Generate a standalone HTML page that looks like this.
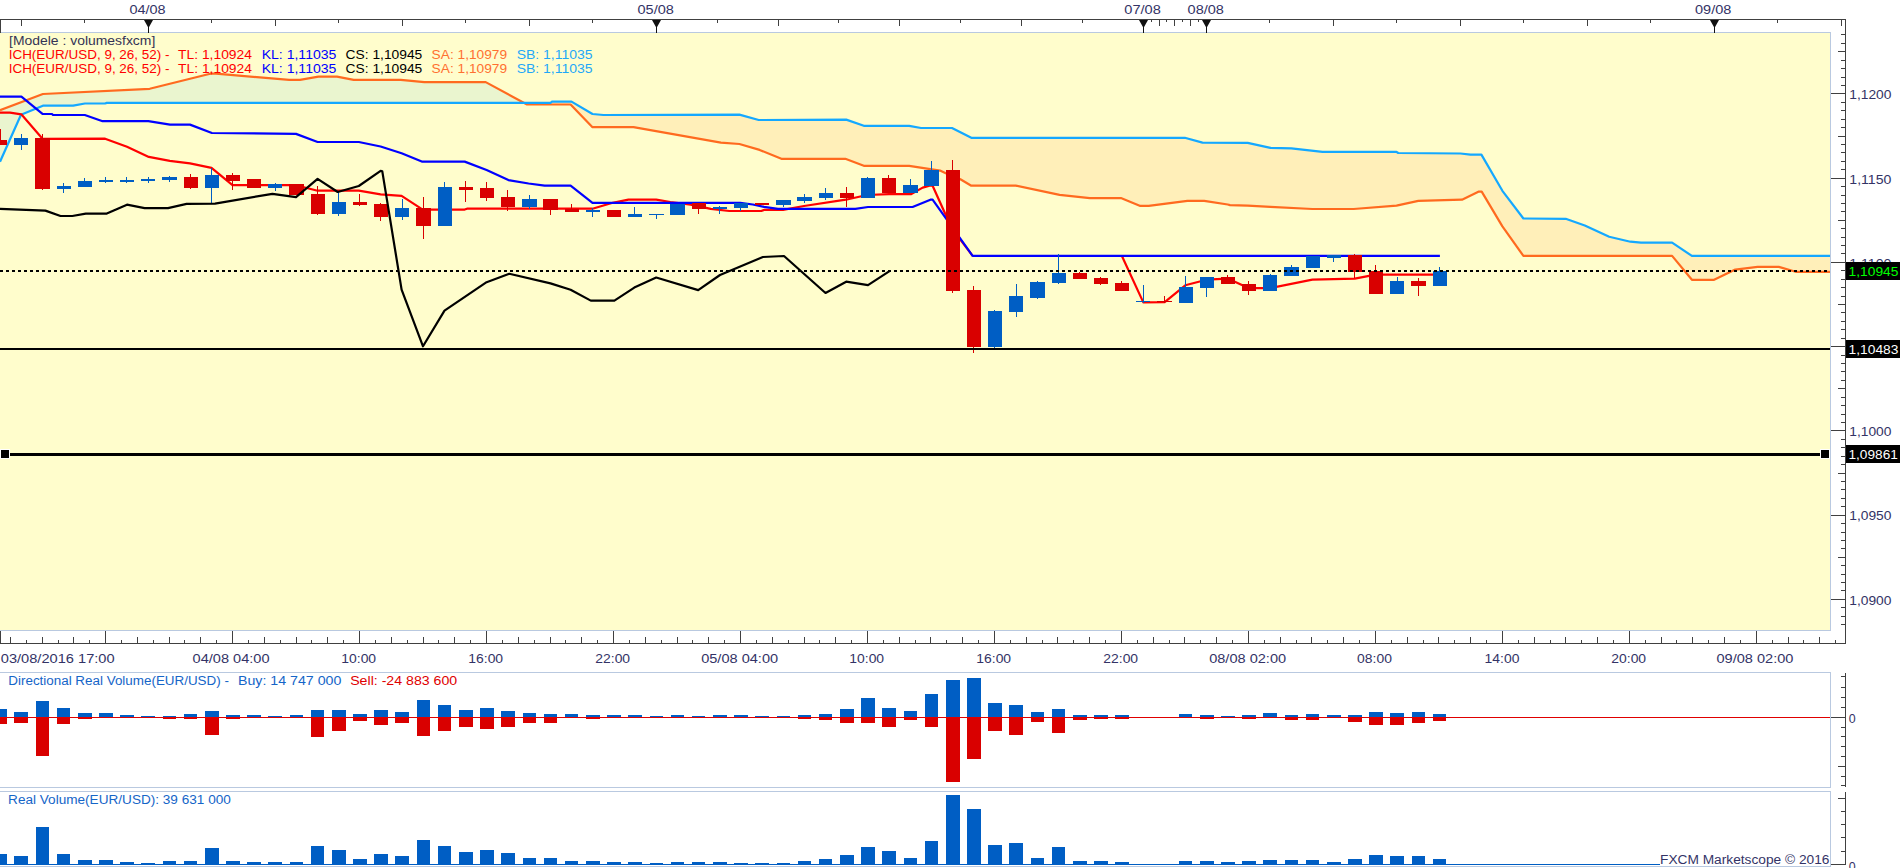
<!DOCTYPE html>
<html><head><meta charset="utf-8"><title>EUR/USD Marketscope</title>
<style>html,body{margin:0;padding:0;background:#fff;overflow:hidden}body{width:1903px;height:868px;position:relative;font-family:"Liberation Sans",sans-serif}</style></head>
<body>
<svg width="1903" height="868" viewBox="0 0 1903 868" style="position:absolute;left:0;top:0;font-family:'Liberation Sans',sans-serif;white-space:pre;">
<rect x="0" y="0" width="1903" height="868" fill="#fff"/>
<rect x="0" y="32" width="1830" height="598" fill="#FFFDCC"/>
<polygon points="0.0,110.2 42.9,94.0 149.7,88.8 210.2,73.7 216.0,73.7 289.2,79.8 300.0,79.8 318.4,76.7 337.0,76.7 353.7,79.8 400.8,79.8 424.3,82.1 485.7,82.1 523.9,102.8 523.9,102.8 106.8,102.9 105.0,103.5 84.9,103.5 73.2,105.7 42.9,105.7 21.0,114.7 0.0,161.8" fill="#EAF5CF"/>
<polygon points="523.9,102.8 550.5,102.8 552.0,101.6 571.5,101.6 592.5,114.0 603.4,115.0 739.4,114.6 758.7,120.0 846.2,119.6 863.8,125.8 909.2,125.8 921.0,128.0 952.0,128.0 971.3,137.8 1184.8,137.8 1202.5,142.6 1247.7,142.9 1270.4,147.9 1291.4,148.4 1322.5,151.8 1396.5,151.8 1398.2,153.0 1460.4,153.5 1470.5,154.6 1481.4,154.6 1502.4,190.8 1523.4,218.5 1565.7,218.8 1584.8,225.5 1609.2,236.8 1630.4,241.7 1641.0,242.7 1672.1,242.7 1691.9,255.9 1830.0,255.9 1830.0,271.8 1795.7,271.8 1778.8,266.9 1757.6,266.9 1735.3,269.6 1714.1,279.8 1691.9,279.8 1672.1,255.9 1523.4,255.9 1502.4,226.4 1481.7,191.6 1478.9,191.6 1462.0,199.7 1418.3,200.9 1396.5,205.6 1353.6,209.0 1312.4,209.0 1270.4,206.8 1247.7,205.6 1230.0,205.1 1227.7,204.5 1204.2,200.8 1187.4,200.8 1148.7,205.9 1140.3,205.9 1120.9,198.1 1089.8,198.1 1059.6,194.8 1015.8,185.7 971.3,185.7 960.4,179.3 945.2,172.9 940.0,170.6 909.2,165.8 863.8,165.8 845.3,158.8 781.4,158.8 759.6,149.9 739.4,144.0 720.9,142.6 633.5,127.2 592.5,127.2 570.6,104.5 527.0,104.5 523.9,102.8" fill="#FFEFB9"/>
<g fill="none" stroke-width="2.2" stroke-linejoin="round">
<polyline points="0.0,110.2 42.9,94.0 149.7,88.8 210.2,73.7 216.0,73.7 289.2,79.8 300.0,79.8 318.4,76.7 337.0,76.7 353.7,79.8 400.8,79.8 424.3,82.1 485.7,82.1 527.0,104.5 570.6,104.5 592.5,127.2 633.5,127.2 720.9,142.6 739.4,144.0 759.6,149.9 781.4,158.8 845.3,158.8 863.8,165.8 909.2,165.8 940.0,170.6 945.2,172.9 960.4,179.3 971.3,185.7 1015.8,185.7 1059.6,194.8 1089.8,198.1 1120.9,198.1 1140.3,205.9 1148.7,205.9 1187.4,200.8 1204.2,200.8 1227.7,204.5 1230.0,205.1 1247.7,205.6 1270.4,206.8 1312.4,209.0 1353.6,209.0 1396.5,205.6 1418.3,200.9 1462.0,199.7 1478.9,191.6 1481.7,191.6 1502.4,226.4 1523.4,255.9 1672.1,255.9 1691.9,279.8 1714.1,279.8 1735.3,269.6 1757.6,266.9 1778.8,266.9 1795.7,271.8 1830.0,271.8" stroke="#FF6A1F"/>
<polyline points="0.0,161.8 21.0,114.7 42.9,105.7 73.2,105.7 84.9,103.5 105.0,103.5 106.8,102.9 550.5,102.8 552.0,101.6 571.5,101.6 592.5,114.0 603.4,115.0 739.4,114.6 758.7,120.0 846.2,119.6 863.8,125.8 909.2,125.8 921.0,128.0 952.0,128.0 971.3,137.8 1184.8,137.8 1202.5,142.6 1247.7,142.9 1270.4,147.9 1291.4,148.4 1322.5,151.8 1396.5,151.8 1398.2,153.0 1460.4,153.5 1470.5,154.6 1481.4,154.6 1502.4,190.8 1523.4,218.5 1565.7,218.8 1584.8,225.5 1609.2,236.8 1630.4,241.7 1641.0,242.7 1672.1,242.7 1691.9,255.9 1830.0,255.9" stroke="#14A8FF"/>
<polyline points="0.0,112.6 10.0,112.6 21.3,114.3 42.5,138.8 105.1,138.7 127.0,146.8 148.8,156.9 169.8,160.8 190.0,163.3 211.5,167.9 232.5,185.2 296.0,185.2 317.6,190.7 358.8,190.7 380.6,194.4 401.6,195.8 422.7,209.6 464.7,209.6 467.0,208.7 592.5,208.7 612.7,202.8 628.4,199.7 656.2,199.7 670.4,202.0 690.6,204.7 710.8,208.8 729.3,211.0 761.2,211.0 764.6,209.8 783.1,209.8 804.0,206.0 845.8,199.7 867.0,195.0 889.0,194.2 910.9,194.2 922.7,187.6 930.4,185.5 932.6,185.8 951.6,228.0 972.6,255.8" stroke="#FF0000"/>
<polyline points="1121.8,255.8 1143.3,302.4 1164.7,302.1 1185.3,285.3 1206.5,279.7 1227.7,278.6 1248.5,288.1 1270.0,288.1 1312.4,279.7 1354.8,278.6 1375.6,274.7 1439.5,274.7" stroke="#FF0000"/>
<polyline points="0.0,96.6 21.4,96.6 42.5,113.9 52.0,114.0 53.0,115.0 84.8,115.0 102.6,121.2 148.3,121.2 170.0,124.6 190.0,124.6 211.9,133.0 296.0,133.9 317.6,142.0 358.8,142.0 380.6,146.5 401.6,153.2 421.8,161.6 464.7,161.6 486.6,170.0 508.4,180.1 528.6,183.5 544.6,185.7 570.6,185.7 592.5,202.8 740.2,202.8 752.8,204.5 764.0,206.9 778.0,208.8 855.4,208.8 868.0,207.0 912.6,207.0 930.4,199.7 932.6,199.7 972.6,255.8 1439.9,255.8" stroke="#0000FF"/>
</g>
<g shape-rendering="crispEdges">
<rect x="0" y="129.0" width="1" height="15.6" fill="#D90000"/>
<rect x="-7" y="140.0" width="14" height="4.6" fill="#D90000"/>
<rect x="21" y="134.0" width="1" height="15.8" fill="#005EC4"/>
<rect x="14" y="138.3" width="14" height="6.3" fill="#005EC4"/>
<rect x="42" y="134.0" width="1" height="55.7" fill="#D90000"/>
<rect x="35" y="138.3" width="15" height="50.6" fill="#D90000"/>
<rect x="63" y="183.0" width="1" height="9.8" fill="#005EC4"/>
<rect x="57" y="186.0" width="14" height="2.9" fill="#005EC4"/>
<rect x="84" y="178.1" width="1" height="8.6" fill="#005EC4"/>
<rect x="78" y="181.0" width="14" height="5.7" fill="#005EC4"/>
<rect x="105" y="177.1" width="1" height="5.9" fill="#005EC4"/>
<rect x="99" y="179.8" width="14" height="2.4" fill="#005EC4"/>
<rect x="126" y="177.1" width="1" height="5.9" fill="#005EC4"/>
<rect x="120" y="179.8" width="14" height="2.4" fill="#005EC4"/>
<rect x="148" y="176.6" width="1" height="6.4" fill="#005EC4"/>
<rect x="141" y="179.0" width="14" height="2.3" fill="#005EC4"/>
<rect x="169" y="176.0" width="1" height="5.8" fill="#005EC4"/>
<rect x="162" y="177.0" width="15" height="2.8" fill="#005EC4"/>
<rect x="190" y="173.9" width="1" height="15.1" fill="#D90000"/>
<rect x="184" y="177.0" width="14" height="10.7" fill="#D90000"/>
<rect x="211" y="168.4" width="1" height="34.4" fill="#005EC4"/>
<rect x="205" y="175.1" width="14" height="12.6" fill="#005EC4"/>
<rect x="232" y="172.9" width="1" height="16.8" fill="#D90000"/>
<rect x="226" y="175.1" width="14" height="5.9" fill="#D90000"/>
<rect x="253" y="179.0" width="1" height="8.7" fill="#D90000"/>
<rect x="247" y="179.0" width="14" height="8.7" fill="#D90000"/>
<rect x="275" y="183.0" width="1" height="8.0" fill="#005EC4"/>
<rect x="268" y="184.0" width="14" height="3.7" fill="#005EC4"/>
<rect x="296" y="184.0" width="1" height="10.8" fill="#D90000"/>
<rect x="289" y="184.0" width="15" height="10.8" fill="#D90000"/>
<rect x="317" y="186.0" width="1" height="29.2" fill="#D90000"/>
<rect x="311" y="194.0" width="14" height="19.8" fill="#D90000"/>
<rect x="338" y="192.0" width="1" height="23.8" fill="#005EC4"/>
<rect x="332" y="202.0" width="14" height="11.8" fill="#005EC4"/>
<rect x="359" y="194.0" width="1" height="11.7" fill="#D90000"/>
<rect x="353" y="202.0" width="14" height="2.9" fill="#D90000"/>
<rect x="380" y="202.9" width="1" height="18.0" fill="#D90000"/>
<rect x="374" y="204.0" width="14" height="12.8" fill="#D90000"/>
<rect x="402" y="199.0" width="1" height="20.7" fill="#005EC4"/>
<rect x="395" y="207.9" width="14" height="8.9" fill="#005EC4"/>
<rect x="423" y="197.0" width="1" height="41.7" fill="#D90000"/>
<rect x="416" y="207.9" width="15" height="17.7" fill="#D90000"/>
<rect x="444" y="181.9" width="1" height="43.7" fill="#005EC4"/>
<rect x="438" y="186.9" width="14" height="38.7" fill="#005EC4"/>
<rect x="465" y="181.0" width="1" height="21.0" fill="#D90000"/>
<rect x="459" y="186.9" width="14" height="3.0" fill="#D90000"/>
<rect x="486" y="181.9" width="1" height="19.0" fill="#D90000"/>
<rect x="480" y="188.0" width="14" height="9.8" fill="#D90000"/>
<rect x="507" y="189.9" width="1" height="20.9" fill="#D90000"/>
<rect x="501" y="197.0" width="14" height="9.7" fill="#D90000"/>
<rect x="529" y="195.0" width="1" height="13.8" fill="#005EC4"/>
<rect x="522" y="199.0" width="15" height="7.7" fill="#005EC4"/>
<rect x="550" y="199.0" width="1" height="15.8" fill="#D90000"/>
<rect x="543" y="199.0" width="15" height="10.6" fill="#D90000"/>
<rect x="571" y="204.0" width="1" height="7.8" fill="#D90000"/>
<rect x="565" y="208.8" width="14" height="3.0" fill="#D90000"/>
<rect x="592" y="207.9" width="1" height="8.9" fill="#005EC4"/>
<rect x="586" y="209.9" width="14" height="1.9" fill="#005EC4"/>
<rect x="613" y="209.9" width="1" height="6.9" fill="#D90000"/>
<rect x="607" y="209.9" width="14" height="6.9" fill="#D90000"/>
<rect x="634" y="206.9" width="1" height="9.8" fill="#005EC4"/>
<rect x="628" y="214.0" width="14" height="2.7" fill="#005EC4"/>
<rect x="656" y="214.0" width="1" height="5.0" fill="#005EC4"/>
<rect x="649" y="214.0" width="15" height="1.0" fill="#005EC4"/>
<rect x="677" y="203.5" width="1" height="11.5" fill="#005EC4"/>
<rect x="670" y="203.5" width="15" height="11.5" fill="#005EC4"/>
<rect x="698" y="203.2" width="1" height="10.8" fill="#D90000"/>
<rect x="692" y="203.2" width="14" height="5.4" fill="#D90000"/>
<rect x="719" y="205.6" width="1" height="8.4" fill="#005EC4"/>
<rect x="713" y="206.9" width="14" height="2.0" fill="#005EC4"/>
<rect x="740" y="203.2" width="1" height="7.9" fill="#005EC4"/>
<rect x="734" y="203.2" width="14" height="4.5" fill="#005EC4"/>
<rect x="761" y="203.2" width="1" height="2.0" fill="#D90000"/>
<rect x="755" y="203.2" width="14" height="2.0" fill="#D90000"/>
<rect x="783" y="199.8" width="1" height="7.1" fill="#005EC4"/>
<rect x="776" y="199.8" width="15" height="5.1" fill="#005EC4"/>
<rect x="804" y="194.0" width="1" height="9.0" fill="#005EC4"/>
<rect x="797" y="196.8" width="15" height="4.2" fill="#005EC4"/>
<rect x="825" y="187.9" width="1" height="11.9" fill="#005EC4"/>
<rect x="819" y="193.0" width="14" height="4.7" fill="#005EC4"/>
<rect x="846" y="187.0" width="1" height="19.9" fill="#D90000"/>
<rect x="840" y="193.0" width="14" height="4.7" fill="#D90000"/>
<rect x="867" y="176.8" width="1" height="20.9" fill="#005EC4"/>
<rect x="861" y="178.0" width="14" height="19.7" fill="#005EC4"/>
<rect x="888" y="175.1" width="1" height="17.9" fill="#D90000"/>
<rect x="882" y="178.0" width="14" height="15.0" fill="#D90000"/>
<rect x="910" y="179.0" width="1" height="14.0" fill="#005EC4"/>
<rect x="903" y="185.0" width="15" height="8.0" fill="#005EC4"/>
<rect x="931" y="160.8" width="1" height="25.2" fill="#005EC4"/>
<rect x="924" y="170.0" width="15" height="16.0" fill="#005EC4"/>
<rect x="952" y="160.0" width="1" height="132.7" fill="#D90000"/>
<rect x="946" y="170.0" width="14" height="120.7" fill="#D90000"/>
<rect x="973" y="286.1" width="1" height="66.8" fill="#D90000"/>
<rect x="967" y="290.2" width="14" height="56.5" fill="#D90000"/>
<rect x="994" y="310.0" width="1" height="37.8" fill="#005EC4"/>
<rect x="988" y="311.2" width="14" height="35.5" fill="#005EC4"/>
<rect x="1016" y="283.9" width="1" height="32.8" fill="#005EC4"/>
<rect x="1009" y="296.2" width="14" height="15.5" fill="#005EC4"/>
<rect x="1037" y="280.9" width="1" height="17.8" fill="#005EC4"/>
<rect x="1030" y="281.9" width="15" height="15.8" fill="#005EC4"/>
<rect x="1058" y="254.0" width="1" height="29.9" fill="#005EC4"/>
<rect x="1052" y="273.3" width="14" height="9.5" fill="#005EC4"/>
<rect x="1079" y="272.2" width="1" height="6.4" fill="#D90000"/>
<rect x="1073" y="273.3" width="14" height="5.3" fill="#D90000"/>
<rect x="1100" y="276.9" width="1" height="7.9" fill="#D90000"/>
<rect x="1094" y="278.2" width="14" height="5.4" fill="#D90000"/>
<rect x="1121" y="281.1" width="1" height="9.6" fill="#D90000"/>
<rect x="1115" y="283.1" width="14" height="7.6" fill="#D90000"/>
<rect x="1143" y="285.3" width="1" height="18.0" fill="#005EC4"/>
<rect x="1136" y="301.1" width="14" height="1.0" fill="#005EC4"/>
<rect x="1164" y="295.7" width="1" height="7.6" fill="#D90000"/>
<rect x="1157" y="301.1" width="15" height="1.0" fill="#D90000"/>
<rect x="1185" y="276.4" width="1" height="26.2" fill="#005EC4"/>
<rect x="1179" y="287.3" width="14" height="15.3" fill="#005EC4"/>
<rect x="1206" y="277.2" width="1" height="19.7" fill="#005EC4"/>
<rect x="1200" y="277.2" width="14" height="10.4" fill="#005EC4"/>
<rect x="1227" y="275.2" width="1" height="9.2" fill="#D90000"/>
<rect x="1221" y="277.2" width="14" height="7.2" fill="#D90000"/>
<rect x="1248" y="281.1" width="1" height="13.8" fill="#D90000"/>
<rect x="1242" y="283.9" width="14" height="6.8" fill="#D90000"/>
<rect x="1270" y="273.9" width="1" height="16.8" fill="#005EC4"/>
<rect x="1263" y="275.2" width="14" height="15.5" fill="#005EC4"/>
<rect x="1291" y="264.9" width="1" height="10.6" fill="#005EC4"/>
<rect x="1284" y="267.1" width="15" height="8.4" fill="#005EC4"/>
<rect x="1312" y="256.2" width="1" height="11.4" fill="#005EC4"/>
<rect x="1306" y="256.2" width="14" height="11.4" fill="#005EC4"/>
<rect x="1333" y="255.4" width="1" height="6.3" fill="#005EC4"/>
<rect x="1327" y="255.4" width="14" height="2.1" fill="#005EC4"/>
<rect x="1354" y="254.0" width="1" height="24.0" fill="#D90000"/>
<rect x="1348" y="255.0" width="14" height="16.8" fill="#D90000"/>
<rect x="1375" y="264.9" width="1" height="28.8" fill="#D90000"/>
<rect x="1369" y="271.3" width="14" height="22.4" fill="#D90000"/>
<rect x="1397" y="277.2" width="1" height="16.5" fill="#005EC4"/>
<rect x="1390" y="281.1" width="14" height="12.6" fill="#005EC4"/>
<rect x="1418" y="278.0" width="1" height="17.7" fill="#D90000"/>
<rect x="1411" y="281.1" width="15" height="4.5" fill="#D90000"/>
<rect x="1439" y="267.1" width="1" height="18.5" fill="#005EC4"/>
<rect x="1433" y="271.3" width="14" height="14.3" fill="#005EC4"/>
</g>
<polyline points="0.0,208.8 45.4,210.6 60.5,216.0 72.3,216.0 85.8,213.6 106.8,213.6 127.0,204.7 144.6,208.1 168.0,208.1 186.6,203.9 215.0,203.6 272.4,193.8 296.0,197.2 317.6,178.9 337.7,192.0 358.8,186.0 380.6,170.9 382.3,171.4 401.6,289.6 423.0,346.3 444.5,310.6 486.6,282.2 509.3,273.8 550.5,283.4 570.6,289.7 590.8,300.6 614.4,300.6 634.3,287.6 656.2,277.5 698.2,290.1 720.0,275.0 762.9,257.0 784.0,256.0 825.5,293.0 846.2,281.7 868.0,285.1 889.9,270.8" fill="none" stroke="#000" stroke-width="2.2" stroke-linejoin="round"/>
<g shape-rendering="crispEdges">
<line x1="0" y1="271" x2="1830" y2="271" stroke="#000" stroke-width="2" stroke-dasharray="3 3"/>
<rect x="0" y="348" width="1830" height="2" fill="#000"/>
<rect x="9" y="453" width="1812" height="3" fill="#000"/>
<rect x="0" y="449" width="10" height="10" fill="#fff"/><rect x="1" y="450" width="8" height="8" fill="#000"/>
<rect x="1820" y="449" width="10" height="10" fill="#fff"/><rect x="1821" y="450" width="8" height="8" fill="#000"/>
</g>
<g shape-rendering="crispEdges">
<rect x="0" y="32" width="1831" height="1" fill="#B9C9E0"/>
<rect x="1830" y="32" width="1" height="599" fill="#B9C9E0"/>
<rect x="0" y="630" width="1831" height="1" fill="#B9C9E0"/>
<rect x="0" y="19" width="1846" height="1" fill="#404040"/>
<rect x="0" y="19" width="1" height="14" fill="#404040"/>
<rect x="1845" y="19" width="1" height="625" fill="#404040"/>
<rect x="0" y="643" width="1846" height="1" fill="#404040"/>
<rect x="0" y="631" width="1" height="13" fill="#404040"/>
<rect x="21" y="20" width="1" height="6" fill="#404040"/>
<rect x="84" y="20" width="1" height="3" fill="#404040"/>
<polygon points="144,20 153,20 148.5,28" fill="#111" shape-rendering="auto"/>
<rect x="148" y="20" width="1" height="13" fill="#111"/>
<rect x="211" y="20" width="1" height="3" fill="#404040"/>
<rect x="275" y="20" width="1" height="6" fill="#404040"/>
<rect x="338" y="20" width="1" height="3" fill="#404040"/>
<rect x="402" y="20" width="1" height="6" fill="#404040"/>
<rect x="465" y="20" width="1" height="3" fill="#404040"/>
<rect x="529" y="20" width="1" height="6" fill="#404040"/>
<rect x="592" y="20" width="1" height="3" fill="#404040"/>
<polygon points="652,20 661,20 656.5,28" fill="#111" shape-rendering="auto"/>
<rect x="656" y="20" width="1" height="13" fill="#111"/>
<rect x="717" y="20" width="1" height="3" fill="#404040"/>
<rect x="778" y="20" width="1" height="6" fill="#404040"/>
<rect x="838" y="20" width="1" height="3" fill="#404040"/>
<rect x="899" y="20" width="1" height="6" fill="#404040"/>
<rect x="960" y="20" width="1" height="3" fill="#404040"/>
<rect x="1021" y="20" width="1" height="6" fill="#404040"/>
<rect x="1082" y="20" width="1" height="3" fill="#404040"/>
<polygon points="1139,20 1148,20 1143.5,28" fill="#111" shape-rendering="auto"/>
<rect x="1143" y="20" width="1" height="13" fill="#111"/>
<rect x="1151" y="20" width="1" height="2" fill="#404040"/>
<rect x="1159" y="20" width="1" height="6" fill="#404040"/>
<rect x="1166" y="20" width="1" height="2" fill="#404040"/>
<rect x="1174" y="20" width="1" height="6" fill="#404040"/>
<rect x="1182" y="20" width="1" height="2" fill="#404040"/>
<rect x="1190" y="20" width="1" height="6" fill="#404040"/>
<rect x="1198" y="20" width="1" height="2" fill="#404040"/>
<polygon points="1202,20 1211,20 1206.5,28" fill="#111" shape-rendering="auto"/>
<rect x="1206" y="20" width="1" height="13" fill="#111"/>
<rect x="1269" y="20" width="1" height="3" fill="#404040"/>
<rect x="1333" y="20" width="1" height="6" fill="#404040"/>
<rect x="1396" y="20" width="1" height="3" fill="#404040"/>
<rect x="1460" y="20" width="1" height="6" fill="#404040"/>
<rect x="1523" y="20" width="1" height="3" fill="#404040"/>
<rect x="1587" y="20" width="1" height="6" fill="#404040"/>
<rect x="1650" y="20" width="1" height="3" fill="#404040"/>
<polygon points="1710,20 1719,20 1714.5,28" fill="#111" shape-rendering="auto"/>
<rect x="1714" y="20" width="1" height="13" fill="#111"/>
<rect x="1777" y="20" width="1" height="3" fill="#404040"/>
<rect x="1841" y="20" width="1" height="6" fill="#404040"/>
<rect x="10" y="637" width="1" height="6" fill="#404040"/>
<rect x="26" y="640" width="1" height="3" fill="#404040"/>
<rect x="42" y="637" width="1" height="6" fill="#404040"/>
<rect x="58" y="640" width="1" height="3" fill="#404040"/>
<rect x="73" y="637" width="1" height="6" fill="#404040"/>
<rect x="89" y="640" width="1" height="3" fill="#404040"/>
<rect x="105" y="631" width="1" height="12" fill="#404040"/>
<rect x="121" y="640" width="1" height="3" fill="#404040"/>
<rect x="137" y="637" width="1" height="6" fill="#404040"/>
<rect x="153" y="640" width="1" height="3" fill="#404040"/>
<rect x="169" y="637" width="1" height="6" fill="#404040"/>
<rect x="184" y="640" width="1" height="3" fill="#404040"/>
<rect x="200" y="637" width="1" height="6" fill="#404040"/>
<rect x="216" y="640" width="1" height="3" fill="#404040"/>
<rect x="232" y="631" width="1" height="12" fill="#404040"/>
<rect x="248" y="640" width="1" height="3" fill="#404040"/>
<rect x="264" y="637" width="1" height="6" fill="#404040"/>
<rect x="280" y="640" width="1" height="3" fill="#404040"/>
<rect x="296" y="637" width="1" height="6" fill="#404040"/>
<rect x="311" y="640" width="1" height="3" fill="#404040"/>
<rect x="327" y="637" width="1" height="6" fill="#404040"/>
<rect x="343" y="640" width="1" height="3" fill="#404040"/>
<rect x="359" y="631" width="1" height="12" fill="#404040"/>
<rect x="375" y="640" width="1" height="3" fill="#404040"/>
<rect x="391" y="637" width="1" height="6" fill="#404040"/>
<rect x="407" y="640" width="1" height="3" fill="#404040"/>
<rect x="423" y="637" width="1" height="6" fill="#404040"/>
<rect x="438" y="640" width="1" height="3" fill="#404040"/>
<rect x="454" y="637" width="1" height="6" fill="#404040"/>
<rect x="470" y="640" width="1" height="3" fill="#404040"/>
<rect x="486" y="631" width="1" height="12" fill="#404040"/>
<rect x="502" y="640" width="1" height="3" fill="#404040"/>
<rect x="518" y="637" width="1" height="6" fill="#404040"/>
<rect x="534" y="640" width="1" height="3" fill="#404040"/>
<rect x="550" y="637" width="1" height="6" fill="#404040"/>
<rect x="565" y="640" width="1" height="3" fill="#404040"/>
<rect x="581" y="637" width="1" height="6" fill="#404040"/>
<rect x="597" y="640" width="1" height="3" fill="#404040"/>
<rect x="613" y="631" width="1" height="12" fill="#404040"/>
<rect x="629" y="640" width="1" height="3" fill="#404040"/>
<rect x="645" y="637" width="1" height="6" fill="#404040"/>
<rect x="661" y="640" width="1" height="3" fill="#404040"/>
<rect x="677" y="637" width="1" height="6" fill="#404040"/>
<rect x="692" y="640" width="1" height="3" fill="#404040"/>
<rect x="708" y="637" width="1" height="6" fill="#404040"/>
<rect x="724" y="640" width="1" height="3" fill="#404040"/>
<rect x="740" y="631" width="1" height="12" fill="#404040"/>
<rect x="756" y="640" width="1" height="3" fill="#404040"/>
<rect x="772" y="637" width="1" height="6" fill="#404040"/>
<rect x="788" y="640" width="1" height="3" fill="#404040"/>
<rect x="804" y="637" width="1" height="6" fill="#404040"/>
<rect x="819" y="640" width="1" height="3" fill="#404040"/>
<rect x="835" y="637" width="1" height="6" fill="#404040"/>
<rect x="851" y="640" width="1" height="3" fill="#404040"/>
<rect x="867" y="631" width="1" height="12" fill="#404040"/>
<rect x="883" y="640" width="1" height="3" fill="#404040"/>
<rect x="899" y="637" width="1" height="6" fill="#404040"/>
<rect x="915" y="640" width="1" height="3" fill="#404040"/>
<rect x="930" y="637" width="1" height="6" fill="#404040"/>
<rect x="946" y="640" width="1" height="3" fill="#404040"/>
<rect x="962" y="637" width="1" height="6" fill="#404040"/>
<rect x="978" y="640" width="1" height="3" fill="#404040"/>
<rect x="994" y="631" width="1" height="12" fill="#404040"/>
<rect x="1010" y="640" width="1" height="3" fill="#404040"/>
<rect x="1026" y="637" width="1" height="6" fill="#404040"/>
<rect x="1042" y="640" width="1" height="3" fill="#404040"/>
<rect x="1057" y="637" width="1" height="6" fill="#404040"/>
<rect x="1073" y="640" width="1" height="3" fill="#404040"/>
<rect x="1089" y="637" width="1" height="6" fill="#404040"/>
<rect x="1105" y="640" width="1" height="3" fill="#404040"/>
<rect x="1121" y="631" width="1" height="12" fill="#404040"/>
<rect x="1137" y="640" width="1" height="3" fill="#404040"/>
<rect x="1153" y="637" width="1" height="6" fill="#404040"/>
<rect x="1169" y="640" width="1" height="3" fill="#404040"/>
<rect x="1184" y="637" width="1" height="6" fill="#404040"/>
<rect x="1200" y="640" width="1" height="3" fill="#404040"/>
<rect x="1216" y="637" width="1" height="6" fill="#404040"/>
<rect x="1232" y="640" width="1" height="3" fill="#404040"/>
<rect x="1248" y="631" width="1" height="12" fill="#404040"/>
<rect x="1264" y="640" width="1" height="3" fill="#404040"/>
<rect x="1280" y="637" width="1" height="6" fill="#404040"/>
<rect x="1296" y="640" width="1" height="3" fill="#404040"/>
<rect x="1311" y="637" width="1" height="6" fill="#404040"/>
<rect x="1327" y="640" width="1" height="3" fill="#404040"/>
<rect x="1343" y="637" width="1" height="6" fill="#404040"/>
<rect x="1359" y="640" width="1" height="3" fill="#404040"/>
<rect x="1375" y="631" width="1" height="12" fill="#404040"/>
<rect x="1391" y="640" width="1" height="3" fill="#404040"/>
<rect x="1407" y="637" width="1" height="6" fill="#404040"/>
<rect x="1423" y="640" width="1" height="3" fill="#404040"/>
<rect x="1438" y="637" width="1" height="6" fill="#404040"/>
<rect x="1454" y="640" width="1" height="3" fill="#404040"/>
<rect x="1470" y="637" width="1" height="6" fill="#404040"/>
<rect x="1486" y="640" width="1" height="3" fill="#404040"/>
<rect x="1502" y="631" width="1" height="12" fill="#404040"/>
<rect x="1518" y="640" width="1" height="3" fill="#404040"/>
<rect x="1534" y="637" width="1" height="6" fill="#404040"/>
<rect x="1550" y="640" width="1" height="3" fill="#404040"/>
<rect x="1565" y="637" width="1" height="6" fill="#404040"/>
<rect x="1581" y="640" width="1" height="3" fill="#404040"/>
<rect x="1597" y="637" width="1" height="6" fill="#404040"/>
<rect x="1613" y="640" width="1" height="3" fill="#404040"/>
<rect x="1629" y="631" width="1" height="12" fill="#404040"/>
<rect x="1645" y="640" width="1" height="3" fill="#404040"/>
<rect x="1661" y="637" width="1" height="6" fill="#404040"/>
<rect x="1676" y="640" width="1" height="3" fill="#404040"/>
<rect x="1692" y="637" width="1" height="6" fill="#404040"/>
<rect x="1708" y="640" width="1" height="3" fill="#404040"/>
<rect x="1724" y="637" width="1" height="6" fill="#404040"/>
<rect x="1740" y="640" width="1" height="3" fill="#404040"/>
<rect x="1756" y="631" width="1" height="12" fill="#404040"/>
<rect x="1772" y="640" width="1" height="3" fill="#404040"/>
<rect x="1788" y="637" width="1" height="6" fill="#404040"/>
<rect x="1803" y="640" width="1" height="3" fill="#404040"/>
<rect x="1819" y="637" width="1" height="6" fill="#404040"/>
<rect x="1835" y="640" width="1" height="3" fill="#404040"/>
<rect x="1841" y="34" width="4" height="1" fill="#404040"/>
<rect x="1841" y="43" width="4" height="1" fill="#404040"/>
<rect x="1838" y="51" width="7" height="1" fill="#404040"/>
<rect x="1841" y="60" width="4" height="1" fill="#404040"/>
<rect x="1841" y="68" width="4" height="1" fill="#404040"/>
<rect x="1841" y="77" width="4" height="1" fill="#404040"/>
<rect x="1841" y="85" width="4" height="1" fill="#404040"/>
<rect x="1831" y="93" width="14" height="1" fill="#404040"/>
<rect x="1841" y="102" width="4" height="1" fill="#404040"/>
<rect x="1841" y="110" width="4" height="1" fill="#404040"/>
<rect x="1841" y="119" width="4" height="1" fill="#404040"/>
<rect x="1841" y="127" width="4" height="1" fill="#404040"/>
<rect x="1838" y="136" width="7" height="1" fill="#404040"/>
<rect x="1841" y="144" width="4" height="1" fill="#404040"/>
<rect x="1841" y="152" width="4" height="1" fill="#404040"/>
<rect x="1841" y="161" width="4" height="1" fill="#404040"/>
<rect x="1841" y="169" width="4" height="1" fill="#404040"/>
<rect x="1831" y="178" width="14" height="1" fill="#404040"/>
<rect x="1841" y="186" width="4" height="1" fill="#404040"/>
<rect x="1841" y="195" width="4" height="1" fill="#404040"/>
<rect x="1841" y="203" width="4" height="1" fill="#404040"/>
<rect x="1841" y="211" width="4" height="1" fill="#404040"/>
<rect x="1838" y="220" width="7" height="1" fill="#404040"/>
<rect x="1841" y="228" width="4" height="1" fill="#404040"/>
<rect x="1841" y="237" width="4" height="1" fill="#404040"/>
<rect x="1841" y="245" width="4" height="1" fill="#404040"/>
<rect x="1841" y="253" width="4" height="1" fill="#404040"/>
<rect x="1831" y="262" width="14" height="1" fill="#404040"/>
<rect x="1841" y="270" width="4" height="1" fill="#404040"/>
<rect x="1841" y="279" width="4" height="1" fill="#404040"/>
<rect x="1841" y="287" width="4" height="1" fill="#404040"/>
<rect x="1841" y="296" width="4" height="1" fill="#404040"/>
<rect x="1838" y="304" width="7" height="1" fill="#404040"/>
<rect x="1841" y="312" width="4" height="1" fill="#404040"/>
<rect x="1841" y="321" width="4" height="1" fill="#404040"/>
<rect x="1841" y="329" width="4" height="1" fill="#404040"/>
<rect x="1841" y="338" width="4" height="1" fill="#404040"/>
<rect x="1831" y="346" width="14" height="1" fill="#404040"/>
<rect x="1841" y="355" width="4" height="1" fill="#404040"/>
<rect x="1841" y="363" width="4" height="1" fill="#404040"/>
<rect x="1841" y="371" width="4" height="1" fill="#404040"/>
<rect x="1841" y="380" width="4" height="1" fill="#404040"/>
<rect x="1838" y="388" width="7" height="1" fill="#404040"/>
<rect x="1841" y="397" width="4" height="1" fill="#404040"/>
<rect x="1841" y="405" width="4" height="1" fill="#404040"/>
<rect x="1841" y="414" width="4" height="1" fill="#404040"/>
<rect x="1841" y="422" width="4" height="1" fill="#404040"/>
<rect x="1831" y="430" width="14" height="1" fill="#404040"/>
<rect x="1841" y="439" width="4" height="1" fill="#404040"/>
<rect x="1841" y="447" width="4" height="1" fill="#404040"/>
<rect x="1841" y="456" width="4" height="1" fill="#404040"/>
<rect x="1841" y="464" width="4" height="1" fill="#404040"/>
<rect x="1838" y="473" width="7" height="1" fill="#404040"/>
<rect x="1841" y="481" width="4" height="1" fill="#404040"/>
<rect x="1841" y="489" width="4" height="1" fill="#404040"/>
<rect x="1841" y="498" width="4" height="1" fill="#404040"/>
<rect x="1841" y="506" width="4" height="1" fill="#404040"/>
<rect x="1831" y="515" width="14" height="1" fill="#404040"/>
<rect x="1841" y="523" width="4" height="1" fill="#404040"/>
<rect x="1841" y="532" width="4" height="1" fill="#404040"/>
<rect x="1841" y="540" width="4" height="1" fill="#404040"/>
<rect x="1841" y="548" width="4" height="1" fill="#404040"/>
<rect x="1838" y="557" width="7" height="1" fill="#404040"/>
<rect x="1841" y="565" width="4" height="1" fill="#404040"/>
<rect x="1841" y="574" width="4" height="1" fill="#404040"/>
<rect x="1841" y="582" width="4" height="1" fill="#404040"/>
<rect x="1841" y="590" width="4" height="1" fill="#404040"/>
<rect x="1831" y="599" width="14" height="1" fill="#404040"/>
<rect x="1841" y="607" width="4" height="1" fill="#404040"/>
<rect x="1841" y="616" width="4" height="1" fill="#404040"/>
<rect x="1841" y="624" width="4" height="1" fill="#404040"/>
</g>
<text x="1849.3" y="99.2" textLength="42.1" lengthAdjust="spacingAndGlyphs" font-size="12.5" fill="#333366">1,1200</text>
<text x="1849.3" y="183.5" textLength="42.1" lengthAdjust="spacingAndGlyphs" font-size="12.5" fill="#333366">1,1150</text>
<text x="1849.3" y="267.7" textLength="42.1" lengthAdjust="spacingAndGlyphs" font-size="12.5" fill="#333366">1,1100</text>
<text x="1849.3" y="351.9" textLength="42.1" lengthAdjust="spacingAndGlyphs" font-size="12.5" fill="#333366">1,1050</text>
<text x="1849.3" y="436.2" textLength="42.1" lengthAdjust="spacingAndGlyphs" font-size="12.5" fill="#333366">1,1000</text>
<text x="1849.3" y="520.4" textLength="42.1" lengthAdjust="spacingAndGlyphs" font-size="12.5" fill="#333366">1,0950</text>
<text x="1849.3" y="604.7" textLength="42.1" lengthAdjust="spacingAndGlyphs" font-size="12.5" fill="#333366">1,0900</text>
<rect x="1846" y="262" width="54" height="18" fill="#000" shape-rendering="crispEdges"/>
<text x="1848.6" y="276.0" textLength="49.8" lengthAdjust="spacingAndGlyphs" font-size="12.5" fill="#00FF00">1,10945</text>
<rect x="1846" y="340" width="54" height="18" fill="#000" shape-rendering="crispEdges"/>
<text x="1848.6" y="354.0" textLength="49.8" lengthAdjust="spacingAndGlyphs" font-size="12.5" fill="#fff">1,10483</text>
<rect x="1846" y="445" width="54" height="18" fill="#000" shape-rendering="crispEdges"/>
<text x="1848.5" y="459.0" textLength="49.3" lengthAdjust="spacingAndGlyphs" font-size="12.5" fill="#fff">1,09861</text>
<text x="129.5" y="14.0" textLength="36.1" lengthAdjust="spacingAndGlyphs" font-size="12.5" fill="#333366">04/08</text>
<text x="637.5" y="14.0" textLength="36.3" lengthAdjust="spacingAndGlyphs" font-size="12.5" fill="#333366">05/08</text>
<text x="1124.3" y="14.0" textLength="36.5" lengthAdjust="spacingAndGlyphs" font-size="12.5" fill="#333366">07/08</text>
<text x="1187.6" y="14.0" textLength="36.3" lengthAdjust="spacingAndGlyphs" font-size="12.5" fill="#333366">08/08</text>
<text x="1695.0" y="14.0" textLength="36.3" lengthAdjust="spacingAndGlyphs" font-size="12.5" fill="#333366">09/08</text>
<text x="0.8" y="663.3" textLength="113.8" lengthAdjust="spacingAndGlyphs" font-size="12.5" fill="#333366">03/08/2016 17:00</text>
<text x="192.6" y="663.3" textLength="76.9" lengthAdjust="spacingAndGlyphs" font-size="12.5" fill="#333366">04/08 04:00</text>
<text x="341.3" y="663.3" textLength="34.8" lengthAdjust="spacingAndGlyphs" font-size="12.5" fill="#333366">10:00</text>
<text x="468.3" y="663.3" textLength="34.8" lengthAdjust="spacingAndGlyphs" font-size="12.5" fill="#333366">16:00</text>
<text x="595.3" y="663.3" textLength="34.8" lengthAdjust="spacingAndGlyphs" font-size="12.5" fill="#333366">22:00</text>
<text x="701.2" y="663.3" textLength="76.9" lengthAdjust="spacingAndGlyphs" font-size="12.5" fill="#333366">05/08 04:00</text>
<text x="849.3" y="663.3" textLength="34.8" lengthAdjust="spacingAndGlyphs" font-size="12.5" fill="#333366">10:00</text>
<text x="976.3" y="663.3" textLength="34.8" lengthAdjust="spacingAndGlyphs" font-size="12.5" fill="#333366">16:00</text>
<text x="1103.3" y="663.3" textLength="34.8" lengthAdjust="spacingAndGlyphs" font-size="12.5" fill="#333366">22:00</text>
<text x="1209.2" y="663.3" textLength="76.9" lengthAdjust="spacingAndGlyphs" font-size="12.5" fill="#333366">08/08 02:00</text>
<text x="1357.1" y="663.3" textLength="34.8" lengthAdjust="spacingAndGlyphs" font-size="12.5" fill="#333366">08:00</text>
<text x="1484.6" y="663.3" textLength="34.8" lengthAdjust="spacingAndGlyphs" font-size="12.5" fill="#333366">14:00</text>
<text x="1611.3" y="663.3" textLength="34.8" lengthAdjust="spacingAndGlyphs" font-size="12.5" fill="#333366">20:00</text>
<text x="1716.5" y="663.3" textLength="76.9" lengthAdjust="spacingAndGlyphs" font-size="12.5" fill="#333366">09/08 02:00</text>
<text x="9.1" y="45.0" textLength="146.2" lengthAdjust="spacingAndGlyphs" font-size="12.5" fill="#333355">[Modele : volumesfxcm]</text>
<text x="8.7" y="59.2" textLength="160.8" lengthAdjust="spacingAndGlyphs" font-size="12.5" fill="#FF0000">ICH(EUR/USD, 9, 26, 52) -</text>
<text x="178.1" y="59.2" textLength="73.8" lengthAdjust="spacingAndGlyphs" font-size="12.5" fill="#FF0000">TL: 1,10924</text>
<text x="261.7" y="59.2" textLength="74.7" lengthAdjust="spacingAndGlyphs" font-size="12.5" fill="#0000FF">KL: 1,11035</text>
<text x="345.6" y="59.2" textLength="76.7" lengthAdjust="spacingAndGlyphs" font-size="12.5" fill="#000000">CS: 1,10945</text>
<text x="431.6" y="59.2" textLength="75.5" lengthAdjust="spacingAndGlyphs" font-size="12.5" fill="#FF7030">SA: 1,10979</text>
<text x="516.7" y="59.2" textLength="75.9" lengthAdjust="spacingAndGlyphs" font-size="12.5" fill="#1FA8F8">SB: 1,11035</text>
<text x="8.7" y="73.0" textLength="160.8" lengthAdjust="spacingAndGlyphs" font-size="12.5" fill="#FF0000">ICH(EUR/USD, 9, 26, 52) -</text>
<text x="178.1" y="73.0" textLength="73.8" lengthAdjust="spacingAndGlyphs" font-size="12.5" fill="#FF0000">TL: 1,10924</text>
<text x="261.7" y="73.0" textLength="74.7" lengthAdjust="spacingAndGlyphs" font-size="12.5" fill="#0000FF">KL: 1,11035</text>
<text x="345.6" y="73.0" textLength="76.7" lengthAdjust="spacingAndGlyphs" font-size="12.5" fill="#000000">CS: 1,10945</text>
<text x="431.6" y="73.0" textLength="75.5" lengthAdjust="spacingAndGlyphs" font-size="12.5" fill="#FF7030">SA: 1,10979</text>
<text x="516.7" y="73.0" textLength="75.9" lengthAdjust="spacingAndGlyphs" font-size="12.5" fill="#1FA8F8">SB: 1,11035</text>
<g shape-rendering="crispEdges">
<rect x="0" y="672" width="1831" height="1" fill="#B9C9E0"/>
<rect x="0" y="787" width="1831" height="1" fill="#B9C9E0"/>
<rect x="1830" y="672" width="1" height="115" fill="#B9C9E0"/>
<rect x="0" y="791" width="1831" height="1" fill="#B9C9E0"/>
<rect x="0" y="866" width="1831" height="1" fill="#B9C9E0"/>
<rect x="1830" y="791" width="1" height="75" fill="#B9C9E0"/>
<rect x="-7" y="709.2" width="14" height="8.0" fill="#005EC4"/>
<rect x="-7" y="717.2" width="14" height="6.8" fill="#D90000"/>
<rect x="14" y="711.9" width="14" height="5.3" fill="#005EC4"/>
<rect x="14" y="717.2" width="14" height="5.8" fill="#D90000"/>
<rect x="36" y="701.1" width="13" height="16.1" fill="#005EC4"/>
<rect x="36" y="717.2" width="13" height="38.7" fill="#D90000"/>
<rect x="57" y="708.0" width="13" height="9.2" fill="#005EC4"/>
<rect x="57" y="717.2" width="13" height="6.8" fill="#D90000"/>
<rect x="78" y="713.1" width="14" height="4.1" fill="#005EC4"/>
<rect x="78" y="717.2" width="14" height="1.7" fill="#D90000"/>
<rect x="99" y="713.1" width="14" height="4.1" fill="#005EC4"/>
<rect x="99" y="717.2" width="14" height="0.7" fill="#D90000"/>
<rect x="120" y="714.9" width="14" height="2.3" fill="#005EC4"/>
<rect x="120" y="717.2" width="14" height="0.7" fill="#D90000"/>
<rect x="141" y="715.9" width="14" height="1.3" fill="#005EC4"/>
<rect x="141" y="717.2" width="14" height="0.7" fill="#D90000"/>
<rect x="163" y="715.9" width="13" height="1.3" fill="#005EC4"/>
<rect x="163" y="717.2" width="13" height="1.7" fill="#D90000"/>
<rect x="184" y="713.8" width="13" height="3.4" fill="#005EC4"/>
<rect x="184" y="717.2" width="13" height="1.7" fill="#D90000"/>
<rect x="205" y="711.0" width="14" height="6.2" fill="#005EC4"/>
<rect x="205" y="717.2" width="14" height="17.8" fill="#D90000"/>
<rect x="226" y="714.9" width="14" height="2.3" fill="#005EC4"/>
<rect x="226" y="717.2" width="14" height="1.7" fill="#D90000"/>
<rect x="247" y="714.9" width="14" height="2.3" fill="#005EC4"/>
<rect x="247" y="717.2" width="14" height="0.8" fill="#D90000"/>
<rect x="268" y="715.9" width="14" height="1.3" fill="#005EC4"/>
<rect x="268" y="717.2" width="14" height="0.7" fill="#D90000"/>
<rect x="290" y="714.9" width="13" height="2.3" fill="#005EC4"/>
<rect x="290" y="717.2" width="13" height="0.7" fill="#D90000"/>
<rect x="311" y="710.1" width="13" height="7.1" fill="#005EC4"/>
<rect x="311" y="717.2" width="13" height="19.7" fill="#D90000"/>
<rect x="332" y="710.1" width="14" height="7.1" fill="#005EC4"/>
<rect x="332" y="717.2" width="14" height="13.7" fill="#D90000"/>
<rect x="353" y="713.8" width="14" height="3.4" fill="#005EC4"/>
<rect x="353" y="717.2" width="14" height="4.0" fill="#D90000"/>
<rect x="374" y="710.1" width="14" height="7.1" fill="#005EC4"/>
<rect x="374" y="717.2" width="14" height="7.7" fill="#D90000"/>
<rect x="395" y="711.9" width="14" height="5.3" fill="#005EC4"/>
<rect x="395" y="717.2" width="14" height="5.8" fill="#D90000"/>
<rect x="417" y="699.9" width="13" height="17.3" fill="#005EC4"/>
<rect x="417" y="717.2" width="13" height="18.8" fill="#D90000"/>
<rect x="438" y="705.0" width="13" height="12.2" fill="#005EC4"/>
<rect x="438" y="717.2" width="13" height="13.7" fill="#D90000"/>
<rect x="459" y="710.1" width="14" height="7.1" fill="#005EC4"/>
<rect x="459" y="717.2" width="14" height="9.8" fill="#D90000"/>
<rect x="480" y="708.0" width="14" height="9.2" fill="#005EC4"/>
<rect x="480" y="717.2" width="14" height="11.6" fill="#D90000"/>
<rect x="501" y="711.0" width="14" height="6.2" fill="#005EC4"/>
<rect x="501" y="717.2" width="14" height="9.8" fill="#D90000"/>
<rect x="523" y="713.1" width="13" height="4.1" fill="#005EC4"/>
<rect x="523" y="717.2" width="13" height="5.8" fill="#D90000"/>
<rect x="544" y="713.8" width="13" height="3.4" fill="#005EC4"/>
<rect x="544" y="717.2" width="13" height="5.8" fill="#D90000"/>
<rect x="565" y="713.8" width="13" height="3.4" fill="#005EC4"/>
<rect x="565" y="717.2" width="13" height="0.7" fill="#D90000"/>
<rect x="586" y="714.9" width="14" height="2.3" fill="#005EC4"/>
<rect x="586" y="717.2" width="14" height="1.7" fill="#D90000"/>
<rect x="607" y="714.9" width="14" height="2.3" fill="#005EC4"/>
<rect x="607" y="717.2" width="14" height="0.7" fill="#D90000"/>
<rect x="628" y="714.9" width="14" height="2.3" fill="#005EC4"/>
<rect x="628" y="717.2" width="14" height="0.7" fill="#D90000"/>
<rect x="650" y="715.9" width="13" height="1.3" fill="#005EC4"/>
<rect x="650" y="717.2" width="13" height="0.7" fill="#D90000"/>
<rect x="671" y="714.9" width="13" height="2.3" fill="#005EC4"/>
<rect x="671" y="717.2" width="13" height="0.7" fill="#D90000"/>
<rect x="692" y="715.9" width="13" height="1.3" fill="#005EC4"/>
<rect x="692" y="717.2" width="13" height="0.7" fill="#D90000"/>
<rect x="713" y="714.9" width="14" height="2.3" fill="#005EC4"/>
<rect x="713" y="717.2" width="14" height="0.7" fill="#D90000"/>
<rect x="734" y="714.9" width="14" height="2.3" fill="#005EC4"/>
<rect x="734" y="717.2" width="14" height="0.7" fill="#D90000"/>
<rect x="755" y="715.9" width="14" height="1.3" fill="#005EC4"/>
<rect x="755" y="717.2" width="14" height="0.7" fill="#D90000"/>
<rect x="777" y="715.9" width="13" height="1.3" fill="#005EC4"/>
<rect x="777" y="717.2" width="13" height="0.7" fill="#D90000"/>
<rect x="798" y="714.9" width="13" height="2.3" fill="#005EC4"/>
<rect x="798" y="717.2" width="13" height="1.7" fill="#D90000"/>
<rect x="819" y="713.8" width="13" height="3.4" fill="#005EC4"/>
<rect x="819" y="717.2" width="13" height="2.8" fill="#D90000"/>
<rect x="840" y="708.9" width="14" height="8.3" fill="#005EC4"/>
<rect x="840" y="717.2" width="14" height="5.8" fill="#D90000"/>
<rect x="861" y="698.0" width="14" height="19.2" fill="#005EC4"/>
<rect x="861" y="717.2" width="14" height="5.8" fill="#D90000"/>
<rect x="882" y="708.0" width="14" height="9.2" fill="#005EC4"/>
<rect x="882" y="717.2" width="14" height="9.8" fill="#D90000"/>
<rect x="904" y="711.0" width="13" height="6.2" fill="#005EC4"/>
<rect x="904" y="717.2" width="13" height="2.8" fill="#D90000"/>
<rect x="925" y="693.9" width="13" height="23.3" fill="#005EC4"/>
<rect x="925" y="717.2" width="13" height="9.8" fill="#D90000"/>
<rect x="946" y="680.0" width="14" height="37.2" fill="#005EC4"/>
<rect x="946" y="717.2" width="14" height="64.6" fill="#D90000"/>
<rect x="967" y="677.9" width="14" height="39.3" fill="#005EC4"/>
<rect x="967" y="717.2" width="14" height="41.7" fill="#D90000"/>
<rect x="988" y="703.1" width="14" height="14.1" fill="#005EC4"/>
<rect x="988" y="717.2" width="14" height="13.7" fill="#D90000"/>
<rect x="1009" y="705.0" width="14" height="12.2" fill="#005EC4"/>
<rect x="1009" y="717.2" width="14" height="17.8" fill="#D90000"/>
<rect x="1031" y="711.9" width="13" height="5.3" fill="#005EC4"/>
<rect x="1031" y="717.2" width="13" height="4.7" fill="#D90000"/>
<rect x="1052" y="708.9" width="13" height="8.3" fill="#005EC4"/>
<rect x="1052" y="717.2" width="13" height="15.8" fill="#D90000"/>
<rect x="1073" y="714.9" width="14" height="2.3" fill="#005EC4"/>
<rect x="1073" y="717.2" width="14" height="2.8" fill="#D90000"/>
<rect x="1094" y="714.9" width="14" height="2.3" fill="#005EC4"/>
<rect x="1094" y="717.2" width="14" height="1.7" fill="#D90000"/>
<rect x="1115" y="714.9" width="14" height="2.3" fill="#005EC4"/>
<rect x="1115" y="717.2" width="14" height="1.7" fill="#D90000"/>
<rect x="1179" y="713.8" width="13" height="3.4" fill="#005EC4"/>
<rect x="1179" y="717.2" width="13" height="0.7" fill="#D90000"/>
<rect x="1200" y="714.9" width="14" height="2.3" fill="#005EC4"/>
<rect x="1200" y="717.2" width="14" height="1.7" fill="#D90000"/>
<rect x="1221" y="715.9" width="14" height="1.3" fill="#005EC4"/>
<rect x="1221" y="717.2" width="14" height="0.7" fill="#D90000"/>
<rect x="1242" y="714.9" width="14" height="2.3" fill="#005EC4"/>
<rect x="1242" y="717.2" width="14" height="1.7" fill="#D90000"/>
<rect x="1263" y="712.9" width="14" height="4.3" fill="#005EC4"/>
<rect x="1263" y="717.2" width="14" height="0.7" fill="#D90000"/>
<rect x="1285" y="714.9" width="13" height="2.3" fill="#005EC4"/>
<rect x="1285" y="717.2" width="13" height="2.8" fill="#D90000"/>
<rect x="1306" y="713.8" width="13" height="3.4" fill="#005EC4"/>
<rect x="1306" y="717.2" width="13" height="2.8" fill="#D90000"/>
<rect x="1327" y="714.9" width="14" height="2.3" fill="#005EC4"/>
<rect x="1327" y="717.2" width="14" height="0.7" fill="#D90000"/>
<rect x="1348" y="714.9" width="14" height="2.3" fill="#005EC4"/>
<rect x="1348" y="717.2" width="14" height="4.7" fill="#D90000"/>
<rect x="1369" y="711.9" width="14" height="5.3" fill="#005EC4"/>
<rect x="1369" y="717.2" width="14" height="7.7" fill="#D90000"/>
<rect x="1390" y="712.9" width="14" height="4.3" fill="#005EC4"/>
<rect x="1390" y="717.2" width="14" height="7.7" fill="#D90000"/>
<rect x="1412" y="711.9" width="13" height="5.3" fill="#005EC4"/>
<rect x="1412" y="717.2" width="13" height="5.8" fill="#D90000"/>
<rect x="1433" y="713.8" width="13" height="3.4" fill="#005EC4"/>
<rect x="1433" y="717.2" width="13" height="3.8" fill="#D90000"/>
<rect x="0" y="717" width="1830" height="1" fill="#E00000"/>
<rect x="1831" y="717" width="15" height="1" fill="#404040"/>
<rect x="0" y="864" width="1660" height="1" fill="#005EC4"/>
<rect x="-7" y="854.1" width="14" height="10.9" fill="#005EC4"/>
<rect x="14" y="856.0" width="14" height="9.0" fill="#005EC4"/>
<rect x="36" y="827.1" width="13" height="37.9" fill="#005EC4"/>
<rect x="57" y="854.1" width="13" height="10.9" fill="#005EC4"/>
<rect x="78" y="859.9" width="14" height="5.1" fill="#005EC4"/>
<rect x="99" y="859.9" width="14" height="5.1" fill="#005EC4"/>
<rect x="120" y="861.8" width="14" height="3.2" fill="#005EC4"/>
<rect x="141" y="862.9" width="14" height="2.1" fill="#005EC4"/>
<rect x="163" y="861.0" width="13" height="4.0" fill="#005EC4"/>
<rect x="184" y="861.0" width="13" height="4.0" fill="#005EC4"/>
<rect x="205" y="847.9" width="14" height="17.1" fill="#005EC4"/>
<rect x="226" y="861.0" width="14" height="4.0" fill="#005EC4"/>
<rect x="247" y="861.8" width="14" height="3.2" fill="#005EC4"/>
<rect x="268" y="862.2" width="14" height="2.8" fill="#005EC4"/>
<rect x="290" y="861.8" width="13" height="3.2" fill="#005EC4"/>
<rect x="311" y="846.0" width="13" height="19.0" fill="#005EC4"/>
<rect x="332" y="850.0" width="14" height="15.0" fill="#005EC4"/>
<rect x="353" y="859.0" width="14" height="6.0" fill="#005EC4"/>
<rect x="374" y="854.1" width="14" height="10.9" fill="#005EC4"/>
<rect x="395" y="856.0" width="14" height="9.0" fill="#005EC4"/>
<rect x="417" y="839.8" width="13" height="25.2" fill="#005EC4"/>
<rect x="438" y="846.0" width="13" height="19.0" fill="#005EC4"/>
<rect x="459" y="852.0" width="14" height="13.0" fill="#005EC4"/>
<rect x="480" y="850.0" width="14" height="15.0" fill="#005EC4"/>
<rect x="501" y="853.0" width="14" height="12.0" fill="#005EC4"/>
<rect x="523" y="858.0" width="13" height="7.0" fill="#005EC4"/>
<rect x="544" y="858.0" width="13" height="7.0" fill="#005EC4"/>
<rect x="565" y="861.0" width="13" height="4.0" fill="#005EC4"/>
<rect x="586" y="861.0" width="14" height="4.0" fill="#005EC4"/>
<rect x="607" y="862.2" width="14" height="2.8" fill="#005EC4"/>
<rect x="628" y="862.2" width="14" height="2.8" fill="#005EC4"/>
<rect x="650" y="863.4" width="13" height="1.6" fill="#005EC4"/>
<rect x="671" y="862.2" width="13" height="2.8" fill="#005EC4"/>
<rect x="692" y="862.2" width="13" height="2.8" fill="#005EC4"/>
<rect x="713" y="862.2" width="14" height="2.8" fill="#005EC4"/>
<rect x="734" y="863.4" width="14" height="1.6" fill="#005EC4"/>
<rect x="755" y="863.4" width="14" height="1.6" fill="#005EC4"/>
<rect x="777" y="863.4" width="13" height="1.6" fill="#005EC4"/>
<rect x="798" y="861.0" width="13" height="4.0" fill="#005EC4"/>
<rect x="819" y="859.0" width="13" height="6.0" fill="#005EC4"/>
<rect x="840" y="855.0" width="14" height="10.0" fill="#005EC4"/>
<rect x="861" y="847.0" width="14" height="18.0" fill="#005EC4"/>
<rect x="882" y="850.9" width="14" height="14.1" fill="#005EC4"/>
<rect x="904" y="858.0" width="13" height="7.0" fill="#005EC4"/>
<rect x="925" y="841.0" width="13" height="24.0" fill="#005EC4"/>
<rect x="946" y="794.7" width="14" height="70.3" fill="#005EC4"/>
<rect x="967" y="808.8" width="14" height="56.2" fill="#005EC4"/>
<rect x="988" y="844.9" width="14" height="20.1" fill="#005EC4"/>
<rect x="1009" y="843.0" width="14" height="22.0" fill="#005EC4"/>
<rect x="1031" y="858.0" width="13" height="7.0" fill="#005EC4"/>
<rect x="1052" y="847.0" width="13" height="18.0" fill="#005EC4"/>
<rect x="1073" y="861.0" width="14" height="4.0" fill="#005EC4"/>
<rect x="1094" y="861.0" width="14" height="4.0" fill="#005EC4"/>
<rect x="1115" y="862.2" width="14" height="2.8" fill="#005EC4"/>
<rect x="1179" y="861.0" width="13" height="4.0" fill="#005EC4"/>
<rect x="1200" y="861.0" width="14" height="4.0" fill="#005EC4"/>
<rect x="1221" y="862.2" width="14" height="2.8" fill="#005EC4"/>
<rect x="1242" y="861.0" width="14" height="4.0" fill="#005EC4"/>
<rect x="1263" y="859.9" width="14" height="5.1" fill="#005EC4"/>
<rect x="1285" y="859.9" width="13" height="5.1" fill="#005EC4"/>
<rect x="1306" y="859.9" width="13" height="5.1" fill="#005EC4"/>
<rect x="1327" y="862.2" width="14" height="2.8" fill="#005EC4"/>
<rect x="1348" y="859.0" width="14" height="6.0" fill="#005EC4"/>
<rect x="1369" y="855.0" width="14" height="10.0" fill="#005EC4"/>
<rect x="1390" y="856.0" width="14" height="9.0" fill="#005EC4"/>
<rect x="1412" y="856.0" width="13" height="9.0" fill="#005EC4"/>
<rect x="1433" y="859.0" width="13" height="6.0" fill="#005EC4"/>
<rect x="1845" y="673" width="1" height="114" fill="#404040"/>
<rect x="1841" y="676" width="4" height="1" fill="#404040"/>
<rect x="1841" y="687" width="4" height="1" fill="#404040"/>
<rect x="1841" y="697" width="4" height="1" fill="#404040"/>
<rect x="1841" y="707" width="4" height="1" fill="#404040"/>
<rect x="1841" y="727" width="4" height="1" fill="#404040"/>
<rect x="1841" y="736" width="4" height="1" fill="#404040"/>
<rect x="1841" y="746" width="4" height="1" fill="#404040"/>
<rect x="1841" y="756" width="4" height="1" fill="#404040"/>
<rect x="1838" y="766" width="7" height="1" fill="#404040"/>
<rect x="1841" y="776" width="4" height="1" fill="#404040"/>
<rect x="1841" y="785" width="4" height="1" fill="#404040"/>
<rect x="1845" y="792" width="1" height="73" fill="#404040"/>
<rect x="1838" y="798" width="7" height="1" fill="#404040"/>
<rect x="1841" y="811" width="4" height="1" fill="#404040"/>
<rect x="1841" y="824" width="4" height="1" fill="#404040"/>
<rect x="1841" y="837" width="4" height="1" fill="#404040"/>
<rect x="1841" y="851" width="4" height="1" fill="#404040"/>
<rect x="1831" y="864" width="15" height="1" fill="#404040"/>
</g>
<text x="1848.7" y="723.0" textLength="6.9" lengthAdjust="spacingAndGlyphs" font-size="12.5" fill="#333366">0</text>
<text x="1848.7" y="871.0" textLength="6.9" lengthAdjust="spacingAndGlyphs" font-size="12.5" fill="#333366">0</text>
<text x="8.3" y="685.0" textLength="220.6" lengthAdjust="spacingAndGlyphs" font-size="12.5" fill="#1565C8">Directional Real Volume(EUR/USD) -</text>
<text x="238.0" y="685.0" textLength="103.4" lengthAdjust="spacingAndGlyphs" font-size="12.5" fill="#1565C8">Buy: 14 747 000</text>
<text x="350.2" y="685.0" textLength="107.0" lengthAdjust="spacingAndGlyphs" font-size="12.5" fill="#E00000">Sell: -24 883 600</text>
<text x="8.1" y="803.7" textLength="222.7" lengthAdjust="spacingAndGlyphs" font-size="12.5" fill="#1565C8">Real Volume(EUR/USD): 39 631 000</text>
<text x="1660.0" y="863.8" textLength="169.5" lengthAdjust="spacingAndGlyphs" font-size="12.5" fill="#333366">FXCM Marketscope © 2016</text>
</svg>
</body></html>
